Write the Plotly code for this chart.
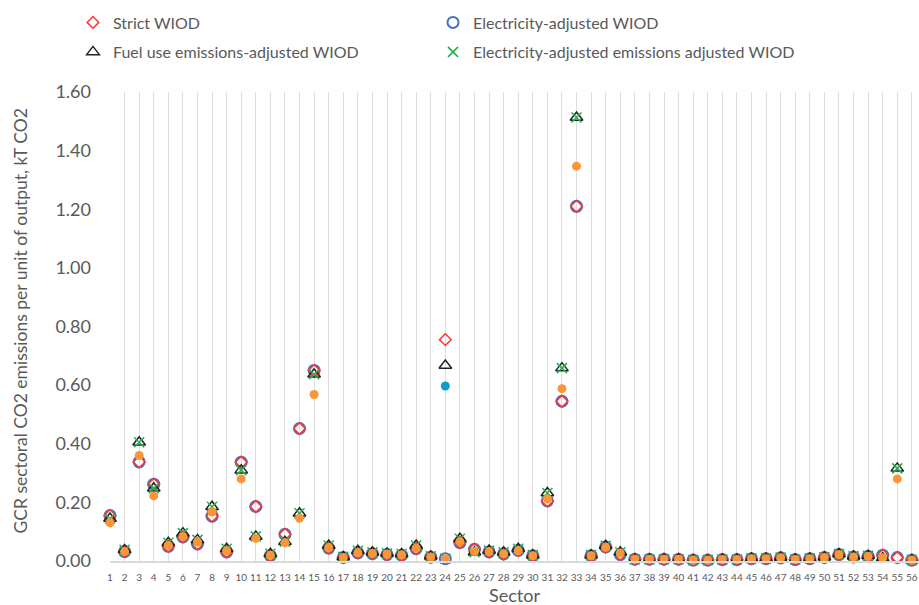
import plotly.graph_objects as go

sectors = list(range(1, 57))
sector_labels = [str(s) for s in sectors]

strict_wiod = [0.155, 0.032, 0.338, 0.262, 0.050, 0.082, 0.058, 0.153, 0.031, 0.337,
               0.186, 0.018, 0.091, 0.452, 0.650, 0.044, 0.012, 0.028, 0.025, 0.022,
               0.020, 0.042, 0.013, 0.755, 0.063, 0.040, 0.031, 0.024, 0.036, 0.018,
               0.205, 0.545, 1.210, 0.018, 0.048, 0.022, 0.006, 0.006, 0.006, 0.006,
               0.003, 0.003, 0.005, 0.005, 0.008, 0.008, 0.011, 0.005, 0.008, 0.012,
               0.022, 0.014, 0.016, 0.020, 0.012, 0.003]

elec_wiod = [0.155, 0.032, 0.338, 0.262, 0.050, 0.082, 0.058, 0.153, 0.031, 0.337,
             0.186, 0.018, 0.091, 0.452, 0.650, 0.044, 0.012, 0.028, 0.025, 0.022,
             0.020, 0.042, 0.013, 0.008, 0.063, 0.040, 0.031, 0.024, 0.036, 0.018,
             0.205, 0.545, 1.210, 0.018, 0.048, 0.022, 0.006, 0.006, 0.006, 0.006,
             0.003, 0.003, 0.005, 0.005, 0.008, 0.008, 0.011, 0.005, 0.008, 0.012,
             0.022, 0.014, 0.016, 0.020, 0.012, 0.003]

fuel_wiod = [0.145, 0.038, 0.405, 0.248, 0.062, 0.095, 0.072, 0.185, 0.042, 0.310,
             0.084, 0.025, 0.066, 0.163, 0.637, 0.053, 0.014, 0.035, 0.030, 0.026,
             0.024, 0.053, 0.016, 0.667, 0.076, 0.030, 0.036, 0.030, 0.042, 0.020,
             0.232, 0.658, 1.513, 0.020, 0.052, 0.030, 0.005, 0.005, 0.006, 0.006,
             0.003, 0.003, 0.005, 0.005, 0.009, 0.009, 0.012, 0.005, 0.009, 0.013,
             0.024, 0.016, 0.018, 0.010, 0.316, 0.003]

elec_fuel_wiod = [0.145, 0.038, 0.405, 0.248, 0.062, 0.095, 0.072, 0.185, 0.042, 0.310,
                  0.084, 0.025, 0.066, 0.163, 0.637, 0.053, 0.014, 0.035, 0.030, 0.026,
                  0.024, 0.053, 0.016, 0.008, 0.076, 0.030, 0.036, 0.030, 0.042, 0.020,
                  0.232, 0.658, 1.513, 0.020, 0.052, 0.030, 0.005, 0.005, 0.006, 0.006,
                  0.003, 0.003, 0.005, 0.005, 0.009, 0.009, 0.012, 0.005, 0.009, 0.013,
                  0.024, 0.016, 0.018, 0.010, 0.316, 0.003]

gcr_orange = [0.130, 0.032, 0.360, 0.222, 0.053, 0.083, 0.065, 0.167, 0.035, 0.280,
              0.077, 0.020, 0.062, 0.146, 0.568, 0.046, 0.012, 0.028, 0.026, 0.024,
              0.021, 0.044, 0.014, 0.008, 0.066, 0.032, 0.032, 0.025, 0.035, 0.018,
              0.212, 0.588, 1.347, 0.018, 0.047, 0.027, 0.006, 0.006, 0.006, 0.006,
              0.003, 0.003, 0.005, 0.005, 0.008, 0.008, 0.011, 0.005, 0.008, 0.012,
              0.022, 0.014, 0.016, 0.011, 0.280, 0.003]

blue_sector = [24]
blue_value = [0.597]

y_ticks = [0.0, 0.2, 0.4, 0.6, 0.8, 1.0, 1.2, 1.4, 1.6]

FONT = "Lato"
GREY = "#595959"

fig = go.Figure()

fig.add_trace(go.Scatter(
    x=sectors, y=elec_wiod, mode="markers", name="Electricity-adjusted WIOD",
    marker=dict(symbol="circle-open", size=11, color="#4472C4", line=dict(width=2, color="#4472C4")),
    cliponaxis=False, legend="legend2"))
fig.add_trace(go.Scatter(
    x=sectors, y=strict_wiod, mode="markers", name="Strict WIOD",
    marker=dict(symbol="diamond-open", size=9, color="#FF3333", line=dict(width=1.5, color="#FF3333")),
    cliponaxis=False, legend="legend"))
fig.add_trace(go.Scatter(
    x=sectors, y=fuel_wiod, mode="markers", name="Fuel use emissions-adjusted WIOD",
    marker=dict(symbol="triangle-up-open", size=11, color="#222222", line=dict(width=1.5, color="#222222")),
    cliponaxis=False, legend="legend3"))
fig.add_trace(go.Scatter(
    x=sectors, y=elec_fuel_wiod, mode="markers", name="Electricity-adjusted emissions adjusted WIOD",
    marker=dict(symbol="x-thin-open", size=10, color="#22B14C", line=dict(width=1.5, color="#22B14C")),
    cliponaxis=False, legend="legend4"))
fig.add_trace(go.Scatter(
    x=sectors, y=gcr_orange, mode="markers", name="GCR",
    marker=dict(symbol="circle", size=9, color="#F9963A"),
    cliponaxis=False, showlegend=False))
fig.add_trace(go.Scatter(
    x=blue_sector, y=blue_value, mode="markers", name="Electricity-adjusted WIOD (24)",
    marker=dict(symbol="circle", size=9, color="#0A9FD1"),
    cliponaxis=False, showlegend=False))

W, H = 919, 605
L, T, B = 110, 92, 44


def legend_box(xpx, ypx):
    return dict(orientation="h", xref="container", yref="container",
                x=xpx / W, y=1 - ypx / H, xanchor="left", yanchor="middle",
                font=dict(family=FONT, size=16, color=GREY),
                bgcolor="rgba(0,0,0,0)")


fig.update_layout(
    width=W, height=H,
    margin=dict(l=L, r=0, t=T, b=B, autoexpand=False),
    paper_bgcolor="white", plot_bgcolor="white",
    font=dict(family=FONT, color=GREY),
    legend=legend_box(73, 22.5),
    legend2=legend_box(433, 22.5),
    legend3=legend_box(73, 52),
    legend4=legend_box(433, 52),
    showlegend=True,
)

fig.update_xaxes(
    range=[1, 56.49], tickmode="array", tickvals=sectors, ticktext=sector_labels,
    showgrid=True, gridcolor="#dddddd", gridwidth=1.4,
    showline=True, linecolor="#d9d9d9", linewidth=1.5,
    zeroline=False, ticks="", tickfont=dict(family=FONT, size=10, color=GREY),
    ticklabelstandoff=6, automargin=False,
)
fig.update_yaxes(
    range=[0, 1.6], tickmode="array", tickvals=y_ticks,
    ticktext=[f"{v:.2f}" for v in y_ticks],
    showgrid=False, zeroline=False, showline=False, ticks="",
    tickfont=dict(family=FONT, size=18, color=GREY),
    ticklabelstandoff=18, automargin=False,
)

fig.add_annotation(
    text="GCR sectoral CO2 emissions per unit of output, kT CO2",
    xref="paper", yref="paper", x=(20 - L) / (W - L), y=(H - B - 321.5) / (H - T - B),
    textangle=-90, showarrow=False, xanchor="center", yanchor="middle",
    font=dict(family=FONT, size=17.5, color=GREY))
fig.add_annotation(
    text="Sector", xref="paper", yref="paper",
    x=(514 - L) / (W - L), y=-(595 - (H - B)) / (H - T - B),
    showarrow=False, xanchor="center", yanchor="middle",
    font=dict(family=FONT, size=18, color=GREY))

fig.write_html(
    "out.html",
    config={"displayModeBar": False},
    post_script="document.body.style.margin='0';document.body.style.overflow='hidden';",
)
